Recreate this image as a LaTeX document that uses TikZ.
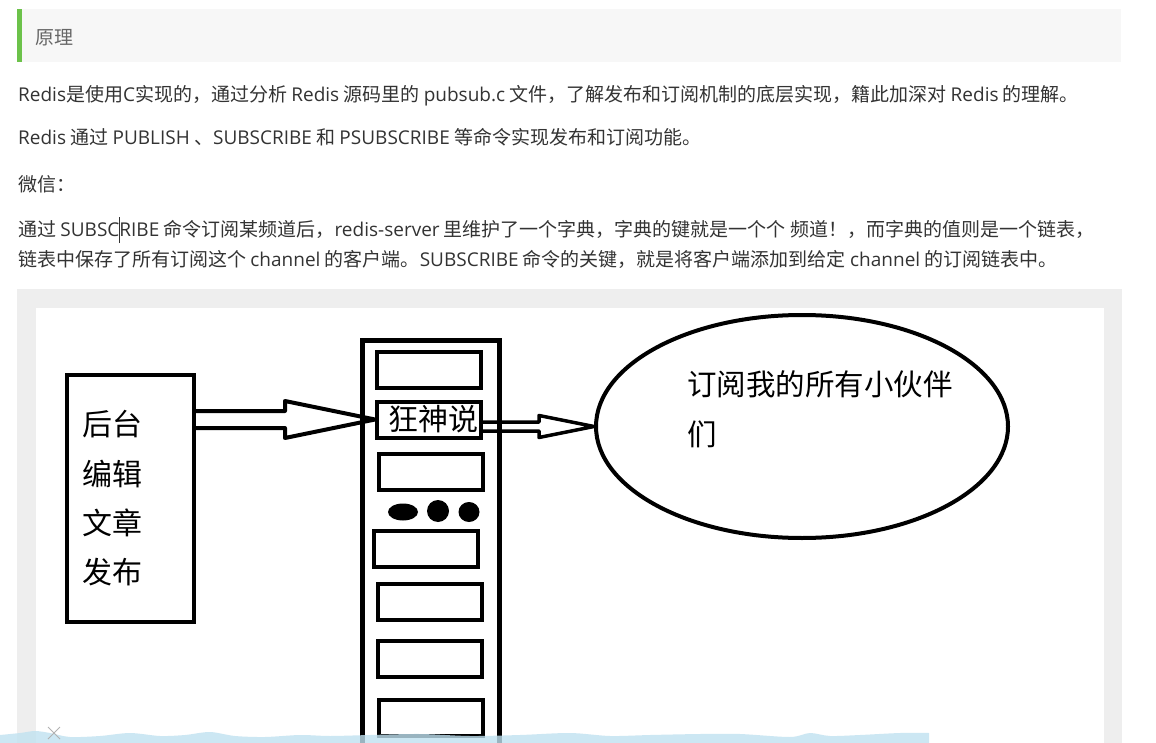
\documentclass[tikz,border=0pt]{standalone}
\usepackage{fontspec}
\setmainfont{Noto Sans CJK SC}
\newfontfamily\enfont{Open Sans}
\usepackage{tikz}
\usetikzlibrary{calc,shapes.geometric}

\definecolor{textgray}{HTML}{333333}
\definecolor{titlegray}{HTML}{666666}
\definecolor{headgray}{HTML}{F7F7F7}
\definecolor{framegray}{HTML}{EEEEEE}
\definecolor{barbgreen}{HTML}{6CC24A}
\definecolor{wavefill}{HTML}{C0E2F0}

\newcommand{\entext}[1]{{\enfont #1}}
\newcommand{\caret}{\rlap{\rule[-6pt]{1pt}{26pt}}}
% freccia vuota: larghezza linea, da, a, mezza asta, mezza punta, lunghezza punta
\newcommand{\pipearrow}[6][4pt]{%
  \draw[pipe, line width=#1] let \p1=(#2), \p2=(#3) in
    (\x1,\y2+#4) -- (\x2-#6,\y2+#4) -- (\x2-#6,\y2+#5) -- (\x2,\y2)
    -- (\x2-#6,\y2-#5) -- (\x2-#6,\y2-#4) -- (\x1,\y2-#4);}

\begin{document}
\begin{tikzpicture}[x=1pt, y=-1pt,
		para/.style={anchor=base west, inner sep=0, text=textgray, font=\fontsize{19}{23}\selectfont},
		box/.style={draw, line width=4pt, inner sep=0},
		slot/.style={box, minimum width=104pt, minimum height=36pt},
		pipe/.style={draw, line join=round},
		bigtext/.style={inner sep=0, align=left, font=\fontsize{30}{49.3}\selectfont}]
				\useasboundingbox (0,0) rectangle (1156,743);
				\fill[white] (0,0) rectangle (1156,743);
				\clip (0,0) rectangle (1156,743);

				\fill[headgray] (17,9) rectangle (1121,62); % titolo
				\fill[barbgreen] (17,9) rectangle (22,62);
				\node[para, text=titlegray] (title) at (35,45) {原理};

				\node[para] (intro) at (18,102) {\entext{Redis}是使用\entext{C}实现的，通过分析 \entext{Redis} 源码里的 \entext{pubsub.c} 文件，了解发布和订阅机制的底层实现，籍此加深对 \entext{Redis} 的理解。};
				\node[para] (cmds) at (18,145) {\entext{Redis} 通过 \entext{PUBLISH} 、\entext{SUBSCRIBE} 和 \entext{PSUBSCRIBE} 等命令实现发布和订阅功能。};
				\node[para] (wechat) at (18,192) {微信：};
				\node[para] (dictone) at (18,237) {通过 \entext{SUBSC\caret RIBE} 命令订阅某频道后，\entext{redis-server} 里维护了一个字典，字典的键就是一个个 频道！，而字典的值则是一个链表，};
				\node[para] (dicttwo) at (18,267) {链表中保存了所有订阅这个 \entext{channel} 的客户端。\entext{SUBSCRIBE} 命令的关键，就是将客户端添加到给定 \entext{channel} 的订阅链表中。};

				\fill[framegray] (17,289) rectangle (1122,743); % cornice
				\fill[white] (36,308) rectangle (1104,743);

				\node[box, minimum width=127pt, minimum height=247pt, text width=97pt, bigtext] (editor) at (130.5,498.5) {后台\\编辑\\文章\\发布};

				\node[box, line width=5pt, minimum width=137pt, minimum height=470pt, anchor=north] (server) at (431,338) {}; % server
				\node[slot] (slot1) at (429,369.5) {};
				\node[slot, text width=98pt, align=right, font=\fontsize{30}{36}\selectfont] (slot2) at (429,419.5) {狂神说}; % canale
				\node[slot] (slot3) at (430.5,472) {};
				\fill (403,512) ellipse [x radius=15, y radius=8.5]; % puntini
				\fill (438,511) circle [radius=11];
				\fill (469,512) ellipse [x radius=10.5, y radius=10];
				\node[slot] (slot4) at (426,549) {};
				\node[slot] (slot5) at (430,601.5) {};
				\node[slot] (slot6) at (430,658.5) {};
				\node[slot] (slot7) at (431,717.5) {};

				\node[ellipse, draw, line width=4pt, minimum width=412pt, minimum height=223pt, inner sep=0] (subs) at (802,426.5) {};
				\node[bigtext, anchor=north west, font=\fontsize{29.5}{50}\selectfont] (substext) at (687,370) {订阅我的所有小伙伴\\们};

				\pipearrow{editor.east}{slot2.west}{8.5pt}{18.5pt}{90pt} % da editor a canale
				\pipearrow[3.5pt]{slot2.east}{subs.west}{4.5pt}{11pt}{55pt} % da canale a iscritti

				\fill[wavefill, opacity=0.8] plot[smooth] coordinates {(0,735) (20,733) (35,731) (50,733) (70,737) (100,736) (130,733) (160,736) (185,735) (210,732) (235,736) (265,737) (300,735) (330,736) (370,735) (420,734) (470,736) (520,735) (570,733) (610,736) (650,735) (700,734) (740,734) (790,737) (810,733) (830,736) (860,735) (900,733) (929,733)} -- (929,743) -- (0,743) -- cycle; % barra video
				\draw[gray!60, line width=1pt] (48,727) -- (60,739) (48,739) -- (60,727);
\end{tikzpicture}
\end{document}
